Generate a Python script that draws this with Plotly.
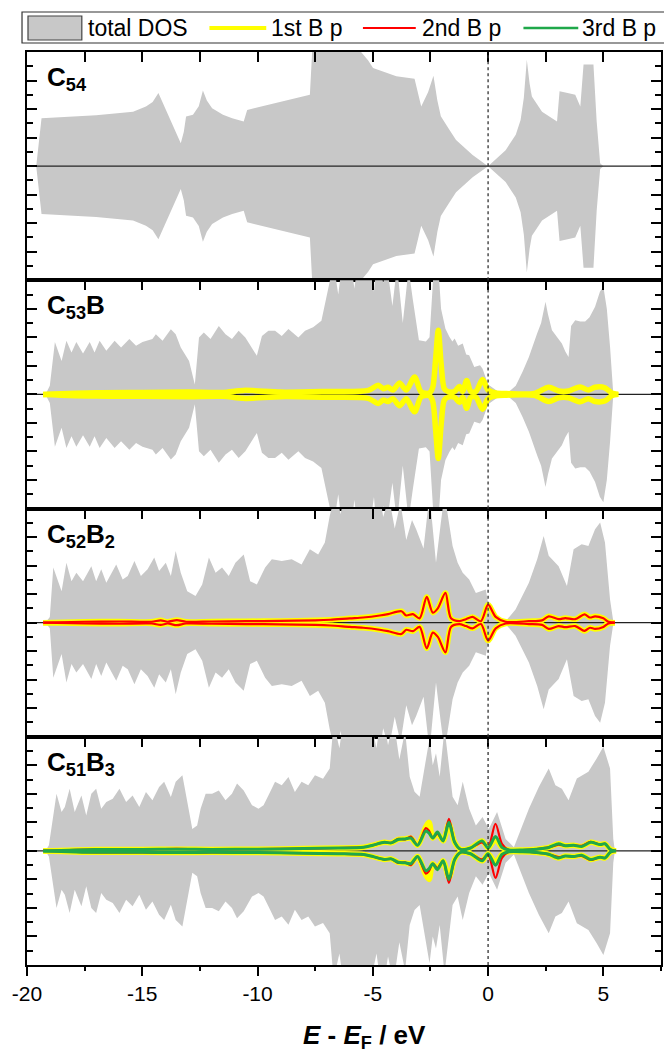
import plotly.graph_objects as go

# ---------------- data ----------------
X_RANGE = [-20, 7.5]
Y_RANGE = [-4, 4]
PANEL_LABELS = ["C<sub>54</sub>", "C<sub>53</sub>B", "C<sub>52</sub>B<sub>2</sub>", "C<sub>51</sub>B<sub>3</sub>"]
LEGEND_NAMES = ["total DOS", "1st B p", "2nd B p", "3rd B p"]
X_TICKS = [-20, -15, -10, -5, 0, 5]
X_TITLE = "<b><i>E</i> - <i>E</i><sub>F</sub> / eV</b>"

# panel 1: C54 total DOS (spin up; spin down mirrored)
E1 = [-19.6, -19.37, -17.0, -15.4, -14.84, -14.55, -14.3, -14.1, -13.8, -13.5, -13.33, -13.2, -13.1,
      -12.8, -12.55, -12.37, -12.2, -11.97, -11.5, -11.1, -10.6, -10.45, -9.5, -8.5, -7.73, -7.6,
      -7.0, -6.0, -5.56, -5.2, -4.99, -4.5, -3.98, -3.19, -3.05, -2.9, -2.6, -2.37, -2.2, -2.05,
      -1.7, -1.39, -0.67, 0.0, 0.76, 1.2, 1.41, 1.55, 1.68, 1.8, 1.9, 2.34, 2.99, 3.1, 3.5, 3.78,
      4.0, 4.14, 4.57, 4.71, 4.86, 5.0]
D1 = [0.0, 1.68, 1.78, 1.91, 2.09, 2.25, 2.56, 2.2, 1.6, 1.1, 0.8, 1.2, 1.74,
      1.8, 2.1, 2.65, 2.3, 2.03, 1.8, 1.68, 1.56, 1.97, 2.15, 2.35, 2.5, 4.5,
      5.5, 5.5, 4.05, 3.7, 3.44, 3.3, 3.15, 3.06, 2.6, 2.09, 2.6, 3.17, 2.3, 1.75,
      1.3, 0.92, 0.39, 0.0, 0.56, 1.1, 1.62, 2.4, 3.73, 2.9, 2.44, 1.91, 1.56, 2.62, 2.55, 2.5,
      2.09, 3.56, 3.56, 1.56, 0.1, 0.0]

# panel 2: C53B
E2 = [-19.2, -19.01, -18.79, -18.5, -18.29, -18.07, -17.86, -17.57, -17.28, -17.07, -16.85, -16.56,
      -16.2, -15.92, -15.56, -15.27, -14.99, -14.56, -14.41, -14.12, -13.76, -13.55, -13.33, -12.97,
      -12.72, -12.54, -12.33, -12.04, -11.68, -11.39, -11.11, -10.82, -10.53, -10.24, -10.03, -9.81,
      -9.53, -9.24, -8.95, -8.66, -8.23, -7.94, -7.59, -7.23, -6.94, -6.7, -6.5, -6.3, -6.0, -5.8,
      -5.6, -5.2, -4.95, -4.8, -4.55, -4.4, -4.15, -3.95, -3.7, -3.45, -3.26, -3.0, -2.7, -2.54,
      -2.35, -2.2, -2.04, -1.85, -1.68, -1.55, -1.45, -1.3, -1.1, -0.95, -0.82, -0.6, -0.35, -0.24,
      0.0, 0.4, 0.8, 1.2, 1.5, 1.77, 2.13, 2.3, 2.49, 2.6, 2.77, 3.0, 3.2, 3.35, 3.49, 3.6, 3.78,
      4.0, 4.21, 4.4, 4.64, 4.85, 5.0, 5.15, 5.29, 5.43, 5.5]
D2 = [0.0, 0.3, 1.84, 1.17, 1.88, 1.47, 1.84, 1.43, 1.84, 1.47, 1.88, 1.53,
      1.88, 1.64, 1.94, 1.7, 1.84, 1.94, 2.11, 1.88, 2.28, 2.11, 1.64, 1.17,
      0.35, 1.99, 2.17, 1.94, 2.4, 2.11, 1.94, 2.23, 1.99, 1.64, 1.35, 2.05,
      2.23, 2.23, 2.05, 2.29, 1.99, 2.23, 2.35, 2.58, 3.64, 4.6, 3.5, 4.8, 5.0, 3.7,
      5.0, 5.0, 3.6, 5.0, 3.9, 4.6, 3.1, 4.5, 2.5, 4.4, 3.3, 1.9, 1.85, 2.0,
      4.5, 5.0, 3.0, 2.3, 2.02, 1.85, 1.96, 1.7, 1.78, 1.4, 1.37, 0.96, 1.02, 0.9,
      0.35, 0.12, 0.02, 0.3, 0.8, 1.31, 2.14, 2.5, 3.25, 2.8, 2.25, 2.0, 1.78, 1.5, 1.31, 2.4, 2.6,
      2.55, 2.55, 2.7, 3.07, 3.6, 3.78, 3.0, 1.67, 0.02, 0.0]
E2P = [-19.3, -17.0, -15.0, -13.0, -11.5, -10.6, -9.0, -7.0, -5.2, -4.77, -4.55, -4.34, -4.13, -3.84,
       -3.55, -3.19, -2.9, -2.54, -2.4, -2.28, -2.16, -2.04, -1.9, -1.75, -1.46, -1.24, -1.1, -0.93,
       -0.75, -0.53, -0.24, 0.0, 0.33, 0.8, 2.0, 2.63, 3.06, 3.49, 3.99, 4.35, 4.64, 5.07, 5.36, 5.65]
P2_B1 = [0.0, 0.06, 0.07, 0.08, 0.07, 0.14, 0.08, 0.1, 0.14, 0.32, 0.2, 0.25, 0.15, 0.4,
         0.15, 0.61, 0.08, 0.05, 0.25, 1.2, 2.25, 1.1, 0.2, 0.1, 0.1, 0.28, 0.1, 0.49,
         0.1, 0.1, 0.52, 0.15, 0.05, 0.03, 0.03, 0.25, 0.12, 0.12, 0.26, 0.15, 0.25, 0.23, 0.05, 0.0]

# panel 3: C52B2
E3 = [-19.2, -19.01, -18.86, -18.5, -18.29, -18.07, -17.86, -17.57, -17.21, -17.0, -16.78, -16.56,
      -16.13, -15.85, -15.63, -15.34, -15.06, -14.77, -14.48, -14.27, -13.98, -13.76, -13.55, -13.33,
      -13.05, -12.69, -12.4, -12.11, -11.82, -11.54, -11.25, -10.96, -10.6, -10.32, -10.03, -9.67,
      -9.38, -8.95, -8.52, -8.09, -7.73, -7.37, -7.08, -6.87, -6.6, -6.4, -6.1, -5.85, -5.6, -5.3,
      -5.0, -4.8, -4.55, -4.3, -4.05, -3.8, -3.55, -3.3, -3.12, -2.8, -2.54, -2.26, -2.05, -1.89,
      -1.54, -1.32, -1.1, -0.82, -0.53, -0.1, 0.0, 0.33, 0.76, 1.19, 1.77, 2.13, 2.41, 2.63, 3.06,
      3.42, 3.71, 4.06, 4.35, 4.64, 4.86, 5.07, 5.29, 5.43, 5.5]
D3 = [0.0, 0.2, 1.93, 1.1, 2.1, 1.45, 1.75, 1.45, 1.98, 1.45, 1.87, 1.4,
      2.04, 1.51, 1.63, 2.16, 1.63, 1.87, 2.28, 1.81, 2.1, 1.63, 2.51, 1.75,
      1.1, 0.93, 1.34, 2.28, 1.75, 1.93, 1.63, 2.1, 2.39, 1.45, 1.34, 1.93,
      2.22, 2.16, 2.22, 2.04, 2.57, 2.39, 2.81, 3.74, 4.6, 3.8, 5.0, 4.2, 5.0, 5.0,
      3.9, 5.0, 3.7, 4.4, 3.3, 4.2, 2.9, 3.6, 3.27, 2.6, 4.5, 2.1, 3.5, 4.5,
      2.69, 2.1, 1.75, 1.51, 1.04, 1.16, 0.69, 0.22, 0.05, 0.46, 1.4, 2.22, 3.04, 2.34, 1.98,
      1.28, 2.57, 2.75, 2.69, 3.27, 3.51, 2.81, 0.81, 0.05, 0.0]
E3P = [-19.3, -17.5, -16.0, -14.6, -14.2, -13.9, -13.5, -13.1, -12.0, -10.5, -9.0, -7.5, -6.85, -6.0,
       -5.42, -4.7, -4.34, -3.76, -3.55, -3.26, -2.97, -2.66, -2.4, -2.18, -1.85, -1.61, -1.25, -0.96,
       -0.67, -0.31, 0.0, 0.33, 0.76, 1.77, 2.34, 2.63, 3.06, 3.35, 3.78, 4.18, 4.42, 4.64, 5.0, 5.22, 5.5]
P3_B1 = [0.0, 0.03, 0.04, 0.03, 0.08, 0.03, 0.09, 0.03, 0.04, 0.05, 0.06, 0.08, 0.1, 0.15,
         0.18, 0.25, 0.3, 0.4, 0.25, 0.3, 0.15, 0.9, 0.35, 0.5, 1.04, 0.15, 0.05, 0.12,
         0.2, 0.05, 0.63, 0.2, 0.03, 0.05, 0.08, 0.22, 0.12, 0.16, 0.12, 0.29, 0.18, 0.22, 0.15, 0.03, 0.0]
P3_B2 = [0.0, 0.03, 0.04, 0.03, 0.08, 0.03, 0.09, 0.03, 0.04, 0.05, 0.06, 0.08, 0.1, 0.15,
         0.18, 0.25, 0.3, 0.4, 0.25, 0.3, 0.15, 0.9, 0.35, 0.5, 1.04, 0.15, 0.05, 0.12,
         0.2, 0.05, 0.63, 0.2, 0.03, 0.05, 0.08, 0.22, 0.12, 0.16, 0.12, 0.29, 0.18, 0.22, 0.15, 0.03, 0.0]

# panel 4: C51B3
E4 = [-19.2, -19.05, -18.72, -18.5, -18.36, -18.15, -17.93, -17.64, -17.43, -17.21, -17.0, -16.78,
      -16.56, -16.28, -15.99, -15.7, -15.42, -15.13, -14.84, -14.56, -14.27, -14.05, -13.76, -13.55,
      -13.26, -13.05, -12.83, -12.62, -12.47, -12.25, -11.97, -11.68, -11.39, -11.11, -10.89, -10.6,
      -10.24, -9.96, -9.74, -9.53, -9.24, -8.95, -8.66, -8.38, -8.09, -7.8, -7.51, -7.16, -6.87,
      -6.7, -6.45, -6.2, -5.9, -5.6, -5.2, -4.84, -4.6, -4.34, -4.1, -3.85, -3.6, -3.4, -3.19,
      -2.97, -2.54, -2.4, -2.26, -2.1, -1.89, -1.54, -1.32, -1.1, -0.82, -0.53, -0.24, 0.03, 0.39,
      0.76, 1.12, 1.77, 2.2, 2.63, 2.92, 3.2, 3.49, 3.85, 4.35, 4.71, 5.0, 5.29, 5.43, 5.5]
D4 = [0.0, 0.2, 2.0, 1.36, 1.54, 2.18, 1.36, 1.94, 1.24, 2.0, 2.18, 1.48,
      1.71, 1.83, 2.18, 1.71, 1.94, 1.54, 2.06, 1.77, 2.24, 2.42, 1.89, 2.42,
      2.65, 1.77, 0.77, 0.89, 1.48, 2.0, 2.0, 2.12, 1.77, 2.0, 2.36, 2.12,
      1.6, 1.48, 1.6, 1.94, 2.42, 2.3, 2.59, 2.06, 2.42, 2.3, 2.65, 2.53, 2.89,
      4.5, 3.6, 5.0, 4.3, 5.0, 5.0, 3.6, 5.0, 3.7, 4.6, 3.2, 4.2, 2.6, 2.07,
      1.9, 3.94, 3.0, 3.42, 2.6, 4.3, 1.9, 1.6, 2.42, 1.48, 0.89, 1.19, 0.77, 1.36,
      0.42, 0.13, 1.48, 2.24, 2.89, 2.3, 2.18, 1.77, 2.54, 2.77, 3.24, 3.65, 2.89, 0.42, 0.0]
E4P = [-19.3, -17.0, -15.0, -13.5, -12.0, -10.0, -8.0, -6.5, -5.4, -5.0, -4.5, -4.2, -3.9, -3.6,
       -3.35, -3.06, -2.7, -2.56, -2.4, -2.2, -1.95, -1.7, -1.45, -1.19, -0.76, -0.26, 0.0, 0.32,
       0.6, 0.9, 1.5, 2.1, 2.63, 3.06, 3.35, 3.71, 4.06, 4.45, 4.86, 5.07, 5.3, 5.55]
P4_B1 = [0.0, 0.05, 0.05, 0.06, 0.05, 0.06, 0.08, 0.1, 0.13, 0.2, 0.3, 0.28, 0.4, 0.42,
         0.45, 0.2, 0.85, 1.0, 0.45, 0.6, 0.35, 0.95, 0.3, 0.05, 0.1, 0.35, 0.1, 0.4,
         0.12, 0.03, 0.03, 0.06, 0.12, 0.25, 0.18, 0.2, 0.15, 0.3, 0.22, 0.25, 0.05, 0.0]
P4_B2 = [0.0, 0.05, 0.05, 0.07, 0.05, 0.06, 0.08, 0.1, 0.13, 0.2, 0.3, 0.28, 0.42, 0.4,
         0.5, 0.2, 0.8, 0.7, 0.45, 0.6, 0.35, 1.12, 0.3, 0.05, 0.1, 0.3, 0.12, 0.95,
         0.25, 0.03, 0.03, 0.06, 0.12, 0.22, 0.18, 0.2, 0.18, 0.32, 0.22, 0.25, 0.05, 0.0]
P4_B3 = [0.0, 0.05, 0.05, 0.06, 0.05, 0.06, 0.08, 0.1, 0.13, 0.2, 0.3, 0.28, 0.4, 0.42,
         0.45, 0.2, 0.7, 0.62, 0.45, 0.66, 0.35, 1.0, 0.3, 0.05, 0.1, 0.35, 0.1, 0.5,
         0.12, 0.03, 0.03, 0.06, 0.12, 0.25, 0.18, 0.2, 0.15, 0.3, 0.22, 0.25, 0.05, 0.0]

TOTAL = [(E1, D1), (E2, D2), (E3, D3), (E4, D4)]
BPROJ = [
    [],
    [(E2P, P2_B1, 0)],
    [(E3P, P3_B1, 0), (E3P, P3_B2, 1)],
    [(E4P, P4_B1, 0), (E4P, P4_B2, 1), (E4P, P4_B3, 2)],
]

# ---------------- style ----------------
W, H = 664, 1052
ML, MR, MT, MB = 27, 1, 52, 87
PW, PH = W - ML - MR, H - MT - MB
GRAY = "rgb(200,200,200)"
B_COLORS = ["#FFFF00", "#FF0000", "#1FA84A"]
B_WIDTHS = [5.5, 2.2, 3.0]
FONT = "Liberation Sans, Arial, sans-serif"


def pxx(p):
    return (p - ML) / PW


def pxy(p):
    return (H - MB - p) / PH


def sfx(k):
    return "" if k == 1 else str(k)


fig = go.Figure()
N = 4
for i in range(N):
    k = i + 1
    xa, ya = "x" + sfx(k), "y" + sfx(k)
    e, d = TOTAL[i]
    fig.add_trace(go.Scatter(x=e, y=d, xaxis=xa, yaxis=ya, mode="lines", line=dict(width=0),
                             fill="tozeroy", fillcolor=GRAY, showlegend=False, hoverinfo="skip"))
    fig.add_trace(go.Scatter(x=e, y=[-v for v in d], xaxis=xa, yaxis=ya, mode="lines", line=dict(width=0),
                             fill="tozeroy", fillcolor=GRAY, showlegend=False, hoverinfo="skip"))
    # baseline
    fig.add_trace(go.Scatter(x=X_RANGE, y=[0, 0], xaxis=xa, yaxis=ya, mode="lines",
                             line=dict(color="#222222", width=1.2), showlegend=False, hoverinfo="skip"))
    for (ep, pv, ci) in BPROJ[i]:
        xs = list(ep) + [None] + list(ep)
        ys = list(pv) + [None] + [-v for v in pv]
        fig.add_trace(go.Scatter(x=xs, y=ys, xaxis=xa, yaxis=ya, mode="lines",
                                 line=dict(color=B_COLORS[ci], width=B_WIDTHS[ci], shape="spline", smoothing=0.8),
                                 connectgaps=False, showlegend=False, hoverinfo="skip"))

# invisible anchor trace for the bottom labelled axis
fig.add_trace(go.Scatter(x=[X_RANGE[0]], y=[0], xaxis="x5", yaxis="y4", mode="markers",
                         marker=dict(opacity=0), showlegend=False, hoverinfo="skip"))

layout = dict(
    width=W, height=H,
    margin=dict(l=ML, r=MR, t=MT, b=MB),
    paper_bgcolor="white", plot_bgcolor="white",
    font=dict(family=FONT, color="black", size=21),
    showlegend=False,
)
for i in range(N):
    k = i + 1
    top = 1 - i / N
    bot = 1 - (i + 1) / N
    layout["xaxis" + sfx(k)] = dict(
        domain=[0, 1], anchor="y" + sfx(k), range=X_RANGE, side="top",
        showline=True, mirror=True, linecolor="black", linewidth=2,
        ticks="inside", tick0=0, dtick=2.5, ticklen=10, tickwidth=2, tickcolor="black",
        showticklabels=False, showgrid=False, zeroline=False,
    )
    layout["yaxis" + sfx(k)] = dict(
        domain=[bot, top], anchor="x" + sfx(k), range=Y_RANGE,
        showline=True, mirror="ticks", linecolor="black", linewidth=2,
        ticks="inside", tick0=0, dtick=1, ticklen=10, tickwidth=2, tickcolor="black",
        minor=dict(ticks="inside", dtick=0.5, ticklen=6, tickwidth=2, tickcolor="black"),
        showticklabels=False, showgrid=False, zeroline=False,
    )
layout["xaxis5"] = dict(
    anchor="y4", overlaying="x4", side="bottom", range=X_RANGE,
    showline=False, ticks="outside", tickmode="array", tickvals=X_TICKS,
    ticktext=[str(v) for v in X_TICKS],
    ticklen=10, tickwidth=2, tickcolor="black",
    minor=dict(ticks="outside", dtick=2.5, tick0=0, ticklen=5, tickwidth=2, tickcolor="black"),
    tickfont=dict(size=21), showgrid=False, zeroline=False,
)
fig.update_layout(**layout)

shapes = []
annotations = []
for i in range(N):
    k = i + 1
    shapes.append(dict(type="line", xref="x" + sfx(k), yref="y" + sfx(k) + " domain", x0=0, x1=0, y0=0, y1=1,
                       line=dict(color="#333333", width=1.3, dash="dot"), layer="above"))
    annotations.append(dict(text=f"<b>{PANEL_LABELS[i]}</b>", xref="x" + sfx(k) + " domain",
                            yref="y" + sfx(k) + " domain",
                            x=18 / PW, y=1 - 8 / (PH / N), xanchor="left", yanchor="top",
                            showarrow=False, font=dict(size=26, family=FONT, color="black")))

# x-axis title
annotations.append(dict(text=X_TITLE, xref="paper", yref="paper", x=pxx(366), y=pxy(1036),
                        xanchor="center", yanchor="middle", showarrow=False,
                        font=dict(size=26, family=FONT, color="black")))

# legend (frame, swatches, labels)
shapes.append(dict(type="rect", xref="paper", yref="paper", x0=pxx(22), x1=pxx(667), y0=pxy(43), y1=pxy(12),
                   line=dict(color="#333333", width=1.2), fillcolor="white", layer="above"))
shapes.append(dict(type="rect", xref="paper", yref="paper", x0=pxx(28), x1=pxx(82), y0=pxy(40), y1=pxy(16),
                   line=dict(color="#444444", width=1.2), fillcolor=GRAY, layer="above"))
leg_lines = [(210, 267), (364, 417), (525, 580)]
for j, (a, b) in enumerate(leg_lines):
    shapes.append(dict(type="line", xref="paper", yref="paper", x0=pxx(a), x1=pxx(b), y0=pxy(28), y1=pxy(28),
                       line=dict(color=B_COLORS[j], width=[4, 1.8, 2.4][j]), layer="above"))
leg_text_x = [88, 272, 423, 584]
for j, name in enumerate(LEGEND_NAMES):
    annotations.append(dict(text=name, xref="paper", yref="paper", x=pxx(leg_text_x[j]), y=pxy(28),
                            xanchor="left", yanchor="middle", showarrow=False, xshift=-2,
                            font=dict(size=23, family=FONT, color="black")))

fig.update_layout(shapes=shapes, annotations=annotations)
fig.write_html(
    "out.html",
    config={"displayModeBar": False},
    post_script="document.body.style.margin='0';document.body.style.overflow='hidden';",
)
